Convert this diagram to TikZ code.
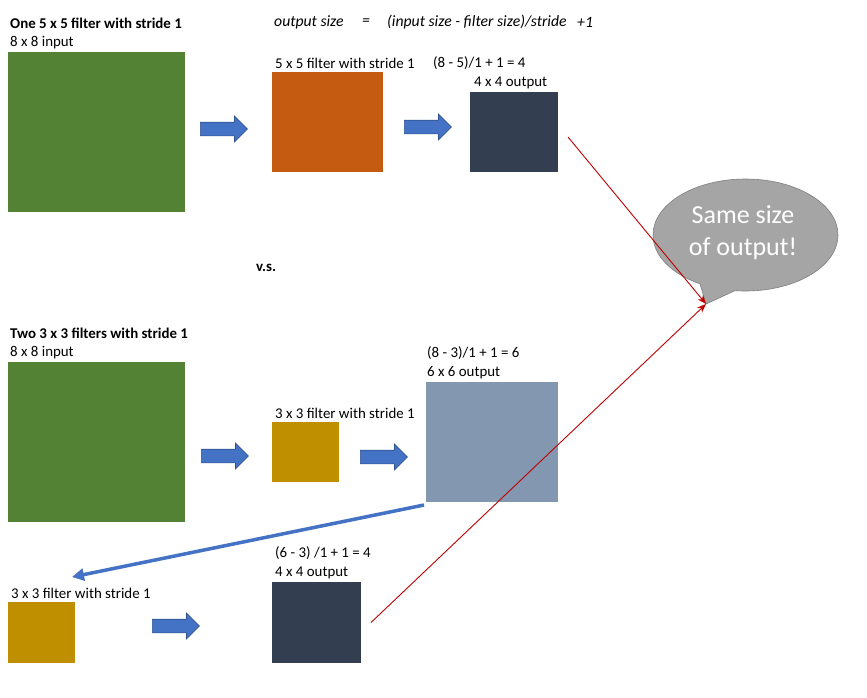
\documentclass[tikz,border=0pt]{standalone}
\usepackage{fontspec}
\setmainfont{Carlito}
\usetikzlibrary{shapes.arrows,arrows.meta}
\definecolor{cgreen}{HTML}{548235}
\definecolor{corange}{HTML}{C55A11}
\definecolor{cdark}{HTML}{333F50}
\definecolor{cgray}{HTML}{8497B0}
\definecolor{cgold}{HTML}{BF8F00}
\definecolor{cblue}{HTML}{4472C4}
\definecolor{cblueedge}{HTML}{2F528F}
\definecolor{cbubble}{HTML}{A5A5A5}
\definecolor{cbubbleedge}{HTML}{7F7F7F}
\definecolor{cred}{HTML}{C00000}
\begin{document}
\begin{tikzpicture}[x=1pt,y=-1pt,
 lbl/.style={anchor=west, inner sep=0pt, font=\fontsize{14.9}{17}\selectfont},
 boldlbl/.style={lbl, font=\fontsize{14.9}{17}\selectfont\bfseries},
 itlbl/.style={lbl, font=\fontsize{15.7}{18}\selectfont\itshape},
 box/.style={inner sep=0pt, outer sep=0pt, anchor=north west},
 barrow/.style={single arrow, fill=cblue, draw=cblueedge, line width=0.7pt,
   single arrow head extend=6pt, minimum height=47pt,
   inner xsep=0pt, inner ysep=6.5pt, anchor=west},
 redline/.style={cred, line width=0.9pt, -{Stealth[length=9pt,width=7pt]}},
]
\useasboundingbox[fill=white] (0,0) rectangle (867,697);

% ---- top row ----
\node[boldlbl] (title1) at (10,23) {One 5 x 5 filter with stride 1};
\node[itlbl] (fa) at (274,22) {output size};
\node[itlbl] (fb) at (362,22) {=};
\node[itlbl] (fc) at (387,22) {(input size - filter size)/stride};
\node[itlbl] (fd) at (577,22) {+1};
\node[lbl] (lin1) at (10,43) {8 x 8 input};
\node[box, fill=cgreen, minimum width=177pt, minimum height=160pt] (in1) at (8,52) {};
\node[barrow] (a1) at (200,129) {};
\node[lbl] (lf1) at (275,63) {5 x 5 filter with stride 1};
\node[lbl] (eq1) at (433,63) {(8 - 5)/1 + 1 = 4};
\node[box, fill=corange, minimum width=111pt, minimum height=100pt] (f1) at (272,72) {};
\node[barrow] (a2) at (404,127) {};
\node[lbl] (lo1) at (474,83) {4 x 4 output};
\node[box, fill=cdark, minimum width=88pt, minimum height=80pt] (o1) at (470,92) {};

\node[boldlbl] (vs) at (256,268) {v.s.};

% ---- second row ----
\node[boldlbl] (title2) at (10,333) {Two 3 x 3 filters with stride 1};
\node[lbl] (lin2) at (10,353) {8 x 8 input};
\node[box, fill=cgreen, minimum width=177pt, minimum height=160pt] (in2) at (8,362) {};
\node[barrow] (a3) at (201,456) {};
\node[lbl] (lf2) at (275,413) {3 x 3 filter with stride 1};
\node[box, fill=cgold, minimum width=67pt, minimum height=60pt] (f2) at (272,422) {};
\node[barrow] (a4) at (360,457) {};
\node[lbl] (eq2) at (427,353) {(8 - 3)/1 + 1 = 6};
\node[lbl] (lo2) at (427,373) {6 x 6 output};
\node[box, fill=cgray, minimum width=132pt, minimum height=120pt] (o2) at (426,382) {};

% ---- third row ----
\node[lbl] (lf3) at (11,593) {3 x 3 filter with stride 1};
\node[box, fill=cgold, minimum width=67pt, minimum height=61pt] (f3) at (8,602) {};
\node[barrow] (a5) at (152,626) {};
\node[lbl] (eq3) at (275,553) {(6 - 3) /1 + 1 = 4};
\node[lbl] (lo3) at (275,573) {4 x 4 output};
\node[box, fill=cdark, minimum width=89pt, minimum height=81pt] (o3) at (272,582) {};

% ---- speech bubble ----
\coordinate (tip) at (706,304);
\path[fill=cbubble, draw=cbubbleedge, line width=0.6pt] (745.5,235) ellipse [x radius=92.5pt, y radius=56pt];
\fill[cbubble] (700,283.8) -- (tip) -- (735,290.6) -- (738,283) -- (703,279) -- cycle;
\draw[cbubbleedge, line width=0.6pt] (700,283.8) -- (tip) -- (735,290.6);
\node[align=center, text=white, inner sep=0pt, font=\fontsize{26}{32}\selectfont] (bubble) at (743,233)
  {Same size\\of output!};

% ---- connectors ----
\coordinate (f3top) at (72,577);
\draw[cblue, line width=3.5pt, -{Triangle[length=12pt,width=12pt]}]
  ([xshift=-2pt,yshift=-3pt]o2.south west) -- (f3top);
\draw[redline] ([xshift=10pt,yshift=-5pt]o1.east) -- (tip);
\draw[redline] ([xshift=10pt]o3.east) -- (tip);
\end{tikzpicture}
\end{document}
